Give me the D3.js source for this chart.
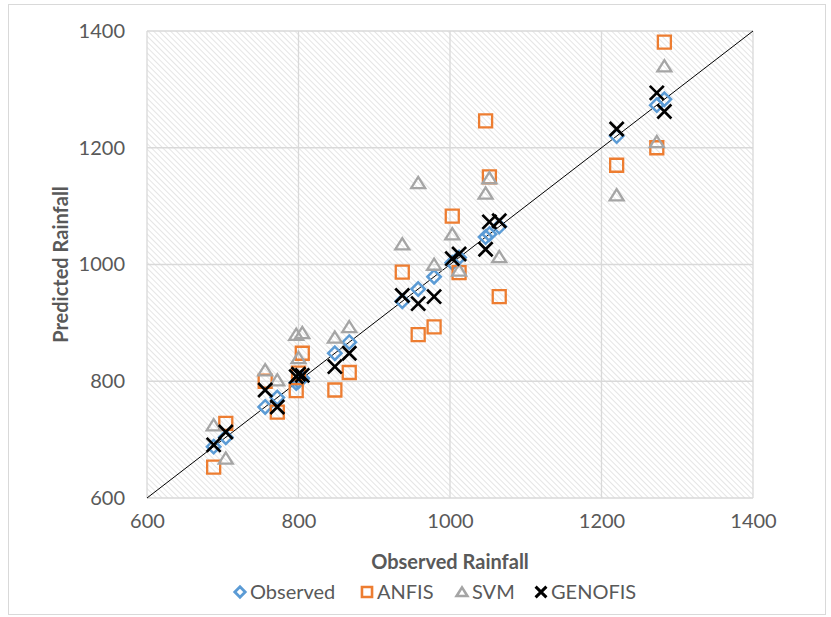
<!DOCTYPE html>
<html>
<head>
<meta charset="utf-8">
<script src="https://cdn.jsdelivr.net/npm/d3@7"></script>
<style>
  body { margin: 0; background: #fff; }
  svg text { font-family: Lato, "Open Sans", sans-serif; fill: #595959; }
</style>
</head>
<body>
<div id="chart"></div>
<script>
// values: x = observed, y = each model's prediction
const observed = [688, 704, 756, 772, 797, 800, 805, 848, 867, 937, 958, 979, 1003, 1012, 1047, 1052, 1065, 1220, 1273, 1283];
const anfis    = [653, 728, 800, 747, 784, 814, 848, 785, 815, 987, 880, 893, 1083, 986, 1246, 1150, 945, 1170, 1200, 1381];
const svm      = [725, 668, 819, 802, 880, 840, 883, 875, 893, 1035, 1140, 1000, 1052, 990, 1122, 1148, 1013, 1119, 1210, 1340];
const genofis  = [691, 713, 785, 756, 808, 812, 810, 825, 848, 947, 933, 945, 1010, 1018, 1026, 1073, 1075, 1232, 1294, 1262];
const ticks = [600, 800, 1000, 1200, 1400];
const seriesNames = ["Observed", "ANFIS", "SVM", "GENOFIS"];

const W = 831, H = 617;
const margin = { top: 31, right: 78, bottom: 119, left: 147 };
const innerW = W - margin.left - margin.right;
const innerH = H - margin.top - margin.bottom;

const x = d3.scaleLinear().domain([600, 1400]).range([0, innerW]);
const y = d3.scaleLinear().domain([600, 1400]).range([innerH, 0]);

// marker shapes
const diamond = { draw(c, s) { const r = Math.sqrt(s) / 2; c.moveTo(0, -r); c.lineTo(r, 0); c.lineTo(0, r); c.lineTo(-r, 0); c.closePath(); } };
const square = { draw(c, s) { const r = Math.sqrt(s) / 2; c.rect(-r, -r, 2 * r, 2 * r); } };
const triangle = { draw(c, s) { const r = Math.sqrt(s) / 2; c.moveTo(0, -r * 0.85); c.lineTo(r, r * 0.75); c.lineTo(-r, r * 0.75); c.closePath(); } };
const cross = { draw(c, s) { const r = Math.sqrt(s) / 2; c.moveTo(-r, -r); c.lineTo(r, r); c.moveTo(r, -r); c.lineTo(-r, r); } };

const series = [
  { name: "Observed", values: observed, shape: diamond, size: 180, color: "#5b9bd5", width: 2.5 },
  { name: "ANFIS", values: anfis, shape: square, size: 169, color: "#ed7d31", width: 2.3 },
  { name: "SVM", values: svm, shape: triangle, size: 196, color: "#a5a5a5", width: 2.3 },
  { name: "GENOFIS", values: genofis, shape: cross, size: 196, color: "#000000", width: 2.7 }
];

const svg = d3.select("#chart").append("svg").attr("width", W).attr("height", H);

svg.append("rect").attr("x", 8.5).attr("y", 4.5).attr("width", 817).attr("height", 610)
  .attr("fill", "#fff").attr("stroke", "#d9d9d9");

const defs = svg.append("defs");
const pat = defs.append("pattern").attr("id", "hatch").attr("patternUnits", "userSpaceOnUse")
  .attr("width", 4).attr("height", 4).attr("patternTransform", "rotate(-45)");
pat.append("rect").attr("width", 4).attr("height", 4).attr("fill", "#fff");
pat.append("line").attr("x1", 0).attr("y1", 0).attr("x2", 0).attr("y2", 4)
  .attr("stroke", "#dadada").attr("stroke-width", 1.4);

const g = svg.append("g").attr("transform", `translate(${margin.left},${margin.top})`);

g.append("rect").attr("width", innerW).attr("height", innerH).attr("fill", "url(#hatch)");

// grid
g.append("g").selectAll("line").data(ticks).join("line")
  .attr("x1", d => x(d)).attr("x2", d => x(d)).attr("y1", 0).attr("y2", innerH)
  .attr("stroke", "#d9d9d9").attr("stroke-width", 1.3);
g.append("g").selectAll("line").data(ticks).join("line")
  .attr("y1", d => y(d)).attr("y2", d => y(d)).attr("x1", 0).attr("x2", innerW)
  .attr("stroke", "#d9d9d9").attr("stroke-width", 1.3);

// axes
const fmt = d3.format("d");
const xAxis = g.append("g").attr("transform", `translate(0,${innerH})`)
  .call(d3.axisBottom(x).tickValues(ticks).tickFormat(fmt).tickSize(0).tickPadding(16));
const yAxis = g.append("g")
  .call(d3.axisLeft(y).tickValues(ticks).tickFormat(fmt).tickSize(0).tickPadding(22));
[xAxis, yAxis].forEach(a => {
  a.select(".domain").remove();
  a.selectAll("text").attr("font-size", 20).attr("fill", "#595959")
    .style("font-family", "Lato, 'Open Sans', sans-serif");
});

// 1:1 line
g.append("line")
  .attr("x1", x(600)).attr("y1", y(600)).attr("x2", x(1400)).attr("y2", y(1400))
  .attr("stroke", "#000").attr("stroke-width", 1);

// points
series.forEach(s => {
  g.append("g").selectAll("path").data(s.values).join("path")
    .attr("transform", (d, i) => `translate(${x(observed[i])},${y(d)})`)
    .attr("d", d3.symbol(s.shape, s.size))
    .attr("fill", "none").attr("stroke", s.color).attr("stroke-width", s.width);
});

// titles
svg.append("text").attr("x", margin.left + innerW / 2).attr("y", 569)
  .attr("text-anchor", "middle").attr("font-size", 20).attr("font-weight", "bold")
  .text("Observed Rainfall");
svg.append("text").attr("transform", `translate(68,${margin.top + innerH / 2}) rotate(-90)`)
  .attr("text-anchor", "middle").attr("font-size", 20).attr("font-weight", "bold")
  .text("Predicted Rainfall");

// legend
const legendX = [240, 367, 462, 541];
const legend = svg.append("g").attr("transform", "translate(0,592)");
series.forEach((s, i) => {
  const item = legend.append("g").attr("transform", `translate(${legendX[i]},0)`);
  item.append("path").attr("d", d3.symbol(s.shape, s.size * 0.6))
    .attr("fill", "none").attr("stroke", s.color).attr("stroke-width", s.width + 0.3);
  item.append("text").attr("x", 10).attr("y", 7).attr("font-size", 20).text(seriesNames[i]);
});
</script>
</body>
</html>
